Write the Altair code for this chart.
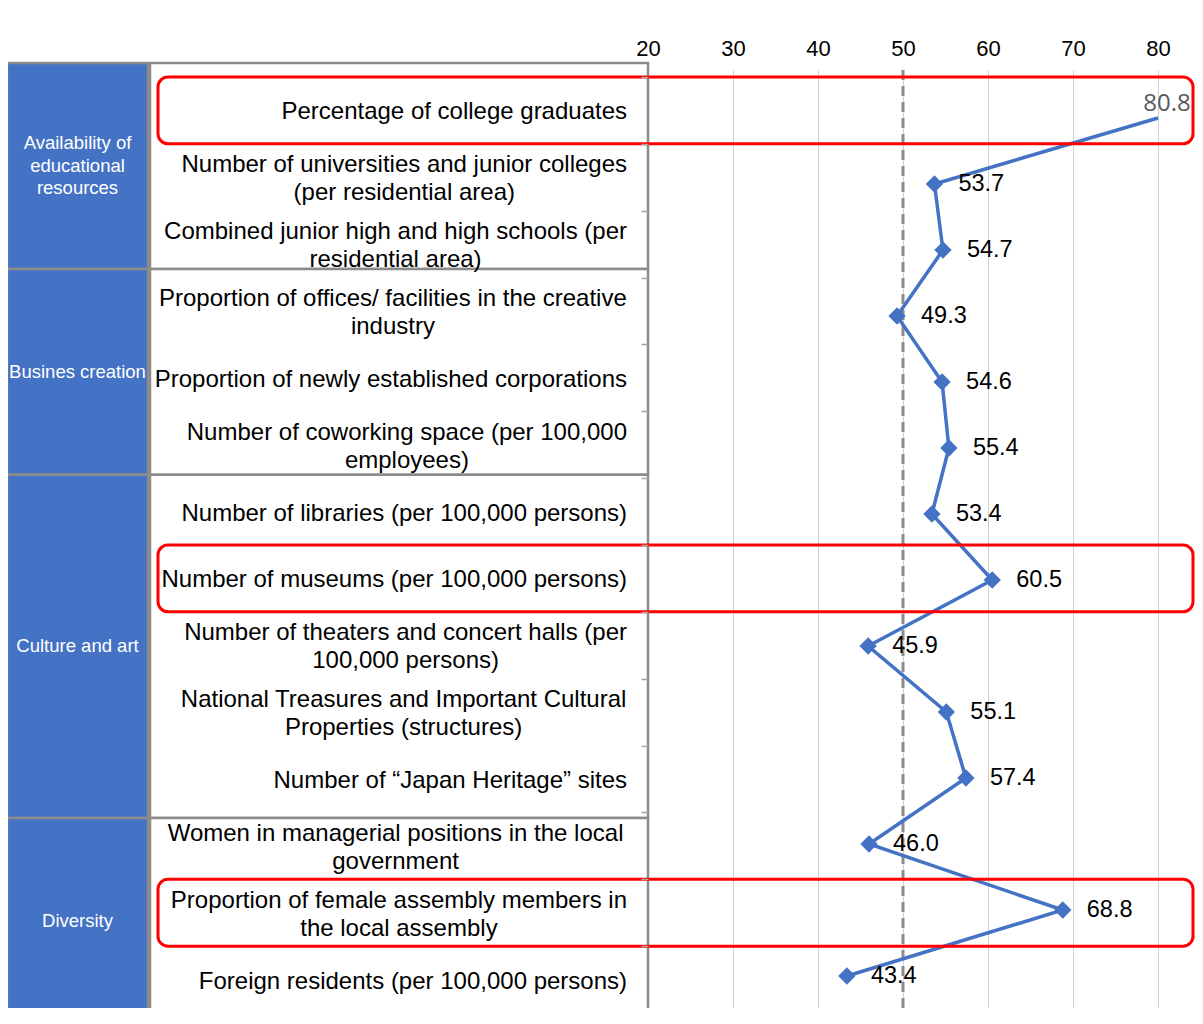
import altair as alt
import pandas as pd

# ---------------- data ----------------
indicator_labels = [
    "Percentage of college graduates",
    "Number of universities and junior colleges\n(per residential area)",
    "Combined junior high and high schools (per\nresidential area)",
    "Proportion of offices/ facilities in the creative\nindustry",
    "Proportion of newly established corporations",
    "Number of coworking space (per 100,000\nemployees)",
    "Number of libraries (per 100,000 persons)",
    "Number of museums (per 100,000 persons)",
    "Number of theaters and concert halls (per\n100,000 persons)",
    "National Treasures and Important Cultural\nProperties (structures)",
    "Number of \u201cJapan Heritage\u201d sites",
    "Women in managerial positions in the local \ngovernment",
    "Proportion of female assembly members in\nthe local assembly",
    "Foreign residents (per 100,000 persons)",
]
scores = [80.8, 53.7, 54.7, 49.3, 54.6, 55.4, 53.4, 60.5, 45.9, 55.1, 57.4, 46.0, 68.8, 43.4]
group_names = ["Availability of\neducational\nresources", "Busines creation", "Culture and art", "Diversity"]
group_sizes = [3, 3, 5, 3]
highlighted_rows = [0, 7, 12]
x_ticks = [20, 30, 40, 50, 60, 70, 80]
benchmark = 50

# ---------------- styling ----------------
BLUE = "#4472C4"
BORDER = "#8c8c8c"
FONT = "Liberation Sans"
W, H = 1187, 938
PLOT_LEFT, PLOT_RIGHT = 640, 1150
ROW_TOP, ROW_BOTTOM = 7, 943
PT_TOP, PT_BOTTOM = 48, 906
LABEL_RIGHT = 619
LABEL_SIZE = 24
LABEL_LH = 28
GROUP_SIZE = 18.5
GROUP_LH = 22.5

# Arial / Liberation Sans advance widths (1/1000 em) used to centre wrapped lines
ARIAL = {" ": 278, "(": 333, ")": 333, ",": 278, "/": 278, ".": 278, "\u201c": 333, "\u201d": 333,
         "C": 722, "F": 611, "H": 722, "I": 278, "J": 500, "N": 722, "P": 667, "T": 611, "W": 944, "B": 667,
         "a": 556, "b": 556, "c": 500, "d": 556, "e": 556, "f": 278, "g": 556, "h": 556, "i": 222,
         "j": 222, "k": 500, "l": 222, "m": 833, "n": 556, "o": 556, "p": 556, "q": 556, "r": 333,
         "s": 500, "t": 278, "u": 556, "v": 500, "w": 722, "x": 500, "y": 500, "z": 500}


def text_width(s, size):
    return sum(ARIAL.get(c, 556) for c in s) * size / 1000.0


n = len(indicator_labels)
keys = [f"r{i:02d}" for i in range(n)]
df = pd.DataFrame({"key": keys, "label": indicator_labels, "value": scores, "order": list(range(n))})
df["nlines"] = [lab.count("\n") + 1 for lab in indicator_labels]
df["lx"] = [LABEL_RIGHT - max(text_width(l, LABEL_SIZE) for l in lab.split("\n")) / 2
            for lab in indicator_labels]

starts, acc = [], 0
for s in group_sizes:
    starts.append(acc)
    acc += s
gdf = pd.DataFrame({"name": group_names, "start": starts,
                    "end": [a + b for a, b in zip(starts, group_sizes)]})
gdf["mid"] = (gdf["start"] + gdf["end"]) / 2
gdf["nlines"] = [g.count("\n") + 1 for g in group_names]

# ---------------- scales ----------------
val_scale = alt.Scale(domain=[x_ticks[0], x_ticks[-1]], range=[PLOT_LEFT, PLOT_RIGHT],
                      clamp=True, nice=False, zero=False)
band_scale = alt.Scale(type="band", domain=keys, range=[ROW_TOP, ROW_BOTTOM], paddingInner=0, paddingOuter=0)
pt_scale = alt.Scale(type="point", domain=keys, range=[PT_TOP, PT_BOTTOM], padding=0)
tbl_scale = alt.Scale(domain=[0, sum(group_sizes)], range=[-7, 954], nice=False, zero=False)

# ---------------- table ----------------
blue = alt.Chart(gdf).mark_rect(fill=BLUE, stroke=BORDER, strokeWidth=2.5).encode(
    x=alt.value(-1), x2=alt.value(140),
    y=alt.Y("start:Q", scale=tbl_scale, axis=None), y2="end:Q")
white = alt.Chart(gdf).mark_rect(fill="white", stroke=BORDER, strokeWidth=2.5).encode(
    x=alt.value(142), x2=alt.value(640),
    y=alt.Y("start:Q", scale=tbl_scale, axis=None), y2="end:Q")


def group_text(nl):
    return alt.Chart(gdf).transform_filter(alt.datum.nlines == nl).mark_text(
        color="white", fontSize=GROUP_SIZE, font=FONT, lineBreak="\n", lineHeight=GROUP_LH,
        align="center", baseline="middle", dy=-(nl - 1) * GROUP_LH / 2).encode(
        x=alt.value(69.5), y=alt.Y("mid:Q", scale=tbl_scale, axis=None), text="name:N")


def label_text(nl, with_axis=False):
    axis = None
    if with_axis:
        axis = alt.Axis(orient="left", offset=-PLOT_LEFT, labels=False, domain=False, ticks=True,
                        tickBand="extent", tickSize=7, tickColor="#a6a6a6", tickWidth=1.5,
                        title=None, grid=False, zindex=1)
    return alt.Chart(df).transform_filter(alt.datum.nlines == nl).mark_text(
        color="black", fontSize=LABEL_SIZE, font=FONT, lineBreak="\n", lineHeight=LABEL_LH,
        align="center", baseline="middle", dy=2 - (nl - 1) * LABEL_LH / 2).encode(
        x=alt.X("lx:Q", scale=None, axis=None),
        y=alt.Y("key:N", scale=band_scale, axis=axis),
        text="label:N")


# ---------------- plot ----------------
dashed = alt.Chart(pd.DataFrame({"v": [benchmark]})).mark_rule(
    color=BORDER, strokeWidth=3, strokeDash=[10, 6]).encode(
    x=alt.X("v:Q", scale=val_scale,
            axis=alt.Axis(orient="top", values=x_ticks, grid=True, gridColor="#d0d0d0", gridWidth=1,
                          domain=False, ticks=False, labelFont=FONT, labelFontSize=22, labelColor="black",
                          labelPadding=10, labelFlush=False, title=None)),
    y=alt.value(0), y2=alt.value(954))

topline = alt.Chart(pd.DataFrame({"a": [x_ticks[0]], "b": [x_ticks[-1]], "key": [keys[0]]})).mark_rule(
    color="#a6a6a6", strokeWidth=1.5).encode(
    x=alt.X("a:Q", scale=val_scale, axis=None), x2="b:Q",
    y=alt.Y("key:N", scale=band_scale, bandPosition=0, axis=None))

line = alt.Chart(df).mark_line(color=BLUE, strokeWidth=3.5).encode(
    x=alt.X("value:Q", scale=val_scale, axis=None),
    y=alt.Y("key:N", scale=pt_scale, axis=None),
    order="order:Q")

in_range = alt.datum.value <= x_ticks[-1]
points = alt.Chart(df).transform_filter(in_range).mark_point(
    shape="diamond", filled=True, size=300, color=BLUE, opacity=1).encode(
    x=alt.X("value:Q", scale=val_scale, axis=None),
    y=alt.Y("key:N", scale=pt_scale, axis=None))

vtext = alt.Chart(df).transform_filter(in_range).mark_text(
    align="left", baseline="middle", dx=24, fontSize=23.5, font=FONT, color="black").encode(
    x=alt.X("value:Q", scale=val_scale, axis=None),
    y=alt.Y("key:N", scale=pt_scale, axis=None),
    text=alt.Text("value:Q", format=".1f"))

otext = alt.Chart(df).transform_filter(alt.datum.value > x_ticks[-1]).mark_text(
    align="center", baseline="middle", dx=9, dy=-14, fontSize=24, font="Open Sans", color="#595959").encode(
    x=alt.X("value:Q", scale=val_scale, axis=None),
    y=alt.Y("key:N", scale=pt_scale, axis=None),
    text=alt.Text("value:Q", format=".1f"))

red = alt.Chart(df[df["order"].isin(highlighted_rows)]).mark_rect(
    fillOpacity=0, stroke="#ff0000", strokeWidth=3, cornerRadius=10).encode(
    x=alt.value(150), x2=alt.value(1185),
    y=alt.Y("key:N", scale=band_scale, axis=None))

chart = alt.layer(
    blue, white, group_text(1), group_text(3), label_text(1, with_axis=True), label_text(2),
    dashed, topline, line, points, vtext, otext, red
).resolve_scale(
    x="independent", y="independent"
).properties(
    width=W, height=H,
    autosize=alt.AutoSizeParams(type="none"),
    padding={"left": 0, "top": 62, "right": 0, "bottom": 0},
    background="white",
).configure_view(strokeWidth=0)

chart.save("out.html", embed_options={"renderer": "svg", "actions": False})
